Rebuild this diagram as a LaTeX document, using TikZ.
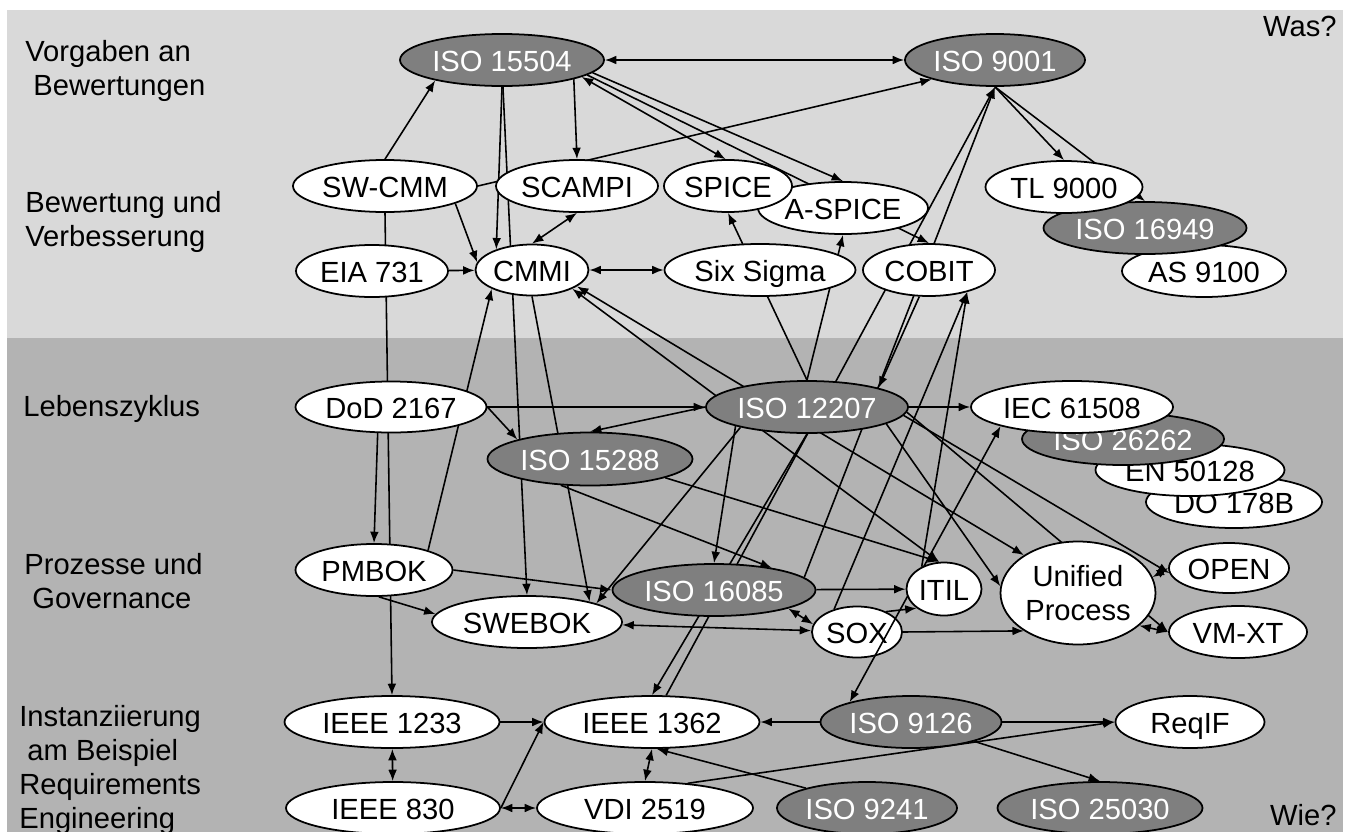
\documentclass[tikz,border=0pt]{standalone}
\usepackage{fontspec}
\setmainfont{Liberation Sans}
\usetikzlibrary{shapes.geometric, arrows.meta}

\pgfdeclarelayer{panel}
\pgfdeclarelayer{links}
\pgfsetlayers{panel,links,main}

\definecolor{bandlight}{HTML}{D9D9D9}
\definecolor{banddark}{HTML}{B3B3B3}
\definecolor{isogray}{HTML}{7F7F7F}

\def\px{0.02cm}		% one pixel of the layout

\begin{document}
\begin{tikzpicture}[x = \px, y = -\px, > = {Latex[length=6.5pt, width=5pt]},
	every node/.style = {font = \fontsize{16.6}{19.3}\selectfont},
	norm/.style = {ellipse, draw, line width = 1pt, fill = white, inner sep = 0pt, text height = 16pt, text depth = 3.3pt},
	iso/.style = {norm, fill = isogray, text = white},
	wh/.style 2 args = {minimum width = #1*\px, minimum height = #2*\px},
	band/.style = {anchor = north west, align = left, inner sep = 0pt},
	link/.style = {line width = 0.9pt}]

	% Bands

	\useasboundingbox (0, 0) rectangle (1350, 832);

	\begin{pgfonlayer}{panel}
		\fill [bandlight] (7, 10) rectangle (1343, 338);
		\fill [banddark] (7, 338) rectangle (1343, 832);
	\end{pgfonlayer}

	\node [band] (tvorg) at (25, 40) {Vorgaben an\\\ Bewertungen};
	\node [band] (tbew) at (25, 191) {Bewertung und\\Verbesserung};
	\node [band] (tleb) at (23, 395) {Lebenszyklus};
	\node [band] (tproz) at (24, 553) {Prozesse und\\\ Governance};
	\node [band] (tinst) at (19, 705) {Instanziierung\\\ am Beispiel\\Requirements\\Engineering};
	\node [anchor = base east, inner sep = 0pt] (twas) at (1337, 36) {Was?};
	\node [anchor = base east, inner sep = 0pt] (twie) at (1337, 825) {Wie?};

	% Standards

	\node [iso, wh={204}{52}] (i15504) at (502, 60) {ISO 15504};
	\node [iso, wh={180}{52}] (i9001) at (995, 60) {ISO 9001};

	\node [norm, wh={184}{52}] (swcmm) at (385, 186) {SW-CMM};
	\node [norm, wh={162}{52}] (scampi) at (577, 186) {SCAMPI};
	\node [norm, wh={170}{52}] (aspice) at (843, 208) {A-SPICE};
	\node [norm, wh={128}{52}] (spice) at (728, 186) {SPICE};
	\node [norm, wh={164}{52}] (as9100) at (1204, 271) {AS 9100};
	\node [iso, wh={203}{52}] (i16949) at (1145, 228) {ISO 16949};
	\node [norm, wh={157}{52}] (tl9000) at (1064, 187) {TL 9000};
	\node [norm, wh={152}{52}] (eia) at (372, 271) {EIA 731};
	\node [norm, wh={113}{51}] (cmmi) at (532, 270) {CMMI};
	\node [norm, wh={191}{52}] (sixsigma) at (760, 270) {Six Sigma};
	\node [norm, wh={132}{52}] (cobit) at (929, 270) {COBIT};

	\node [norm, wh={191}{51}] (dod) at (391, 407) {DoD 2167};
	\node [iso, wh={202}{52}] (i12207) at (807, 407) {ISO 12207};
	\node [iso, wh={205}{53}] (i15288) at (590, 459) {ISO 15288};
	\node [norm, wh={176}{52}] (do178) at (1234, 502) {DO 178B};
	\node [norm, wh={189}{52}] (en50128) at (1190, 470) {EN 50128};
	\node [iso, wh={202}{52}] (i26262) at (1123, 439) {ISO 26262};
	\node [norm, wh={202}{52}] (iec) at (1072, 407) {IEC 61508};

	\node [norm, wh={157}{52}] (pmbok) at (374, 570) {PMBOK};
	\node [iso, wh={203}{52}] (i16085) at (714, 590) {ISO 16085};
	\node [norm, wh={190}{52}] (swebok) at (527, 622) {SWEBOK};
	\node [iso, wh={181}{52}] (i9126) at (911, 722) {ISO 9126};
	\node [norm, wh={90}{51}] (sox) at (857, 632) {SOX};

	\draw [link, <->] (i9126.162) -- (iec.195);		% runs over SOX

	\node [norm, wh={75}{53}] (itil) at (944, 589) {ITIL};
	\node [norm, wh={155}{103}, align = center, text height =, text depth =] (up) at (1078, 593) {Unified\\Process};
	\node [norm, wh={120}{50}] (open) at (1229, 568) {OPEN};
	\node [norm, wh={138}{52}] (vmxt) at (1238, 632) {VM-XT};

	\node [norm, wh={215}{52}] (ieee1233) at (392, 722) {IEEE 1233};
	\node [norm, wh={215}{52}] (ieee1362) at (652, 722) {IEEE 1362};
	\node [norm, wh={149}{52}] (reqif) at (1190, 722) {ReqIF};
	\node [norm, wh={214}{52}] (ieee830) at (393, 808) {IEEE 830};
	\node [norm, wh={216}{52}] (vdi) at (645, 808) {VDI 2519};
	\node [iso, wh={180}{52}] (i9241) at (867, 808) {ISO 9241};
	\node [iso, wh={205}{52}] (i25030) at (1100, 808) {ISO 25030};

	% Relations (behind the ellipses)

	\begin{pgfonlayer}{links}
	\begin{scope}[link]

		\draw [<->] (i15504) -- (i9001);
		\draw [->] (swcmm.north) -- (i15504.197);
		\draw [->] (swcmm.east) -- (i9001.197);
		\draw [->] (i15504.-15) -- (scampi.north);
		\draw [<->] (i15504.-12) -- (spice.95);
		\draw [->] (i15504.-10) -- (cobit.north);
		\draw [->] (i15504.-8) -- (aspice.north);
		\draw [->] (i15504.south) -- (cmmi.150);
		\draw [->] (i15504.-88) -- (swebok.north);
		\draw [->] (i9001.south) -- (tl9000.north);
		\draw [->] (i9001.south) -- (i16949.north);

		\draw [->] (swcmm.-14) -- (cmmi.172);
		\draw [->] (eia) -- (cmmi);
		\draw [<->] (scampi.south) -- (cmmi.north);
		\draw [<->] (cmmi) -- (sixsigma);
		\draw [->] (swcmm.south) -- (ieee1233.north);

		\draw [->] (dod.-117) -- (pmbok.north);
		\draw [->] (dod) -- (i12207);
		\draw [->] (dod.east) -- (i15288.165);
		\draw [->] (pmbok.20) -- (cmmi.205);
		\draw [<->] (cmmi.-25) -- (itil.100);
		\draw [<->] (cmmi.-20) -- (up.145);
		\draw [->] (cmmi.south) -- (swebok.18);

		\draw [->] (i12207.north) -- (spice.south);
		\draw [->] (i12207.north) -- (aspice.south);
		\draw [->] (i12207.west) -- (i15288.north);
		\draw [->] (i12207) -- (iec);
		\draw [->] (i12207.-3) -- (vmxt.west);
		\draw [->] (i12207.-5) -- (open.185);
		\draw [->] (i12207.-12) -- (up.175);
		\draw [->] (i12207.195) -- (i16085.north);
		\draw [->] (i12207.197) -- (swebok.15);
		\draw [->] (i12207.south) -- (ieee1362.north);
		\draw [->] (cobit.-110) -- (i12207.15);

		\draw [->] (ieee1362.62) -- (i9001.south);
		\draw [->] (i16085.8) -- (i9001.south);
		\draw [->] (sox.135) -- (cobit.-30);
		\draw [->] (itil.135) -- (cobit.-30);

		\draw [->] (i15288.222) -- (i16085.21);
		\draw [->] (i15288.-14) -- (itil.100);
		\draw [->] (pmbok.east) -- (i16085.west);
		\draw [->] (pmbok.-80) -- (swebok.175);
		\draw [->] (i16085) -- (itil);
		\draw [<->] (swebok) -- (sox);
		\draw [<->] (i16085.-14) -- (sox.170);
		\draw [->] (sox.35) -- (itil.215);
		\draw [->] (sox.east) -- (up.215);
		\draw [<->] (up.12) -- (open.west);
		\draw [<->] (up.-28) -- (vmxt.west);

		\draw [->] (ieee1233) -- (ieee1362);
		\draw [<->] (ieee1233) -- (ieee830);
		\draw [<->] (ieee830) -- (vdi);
		\draw [->] (ieee830.east) -- (ieee1362.west);
		\draw [<->] (ieee1362.south) -- (vdi.north);
		\draw [->] (i9241.162) -- (ieee1362.-80);
		\draw [->] (i9126) -- (ieee1362);
		\draw [->] (i9126) -- (reqif);
		\draw [->] (i9126.-17) -- (i25030.north);
		\draw [->] (vdi.30) -- (reqif.west);

	\end{scope}
	\end{pgfonlayer}

\end{tikzpicture}
\end{document}
